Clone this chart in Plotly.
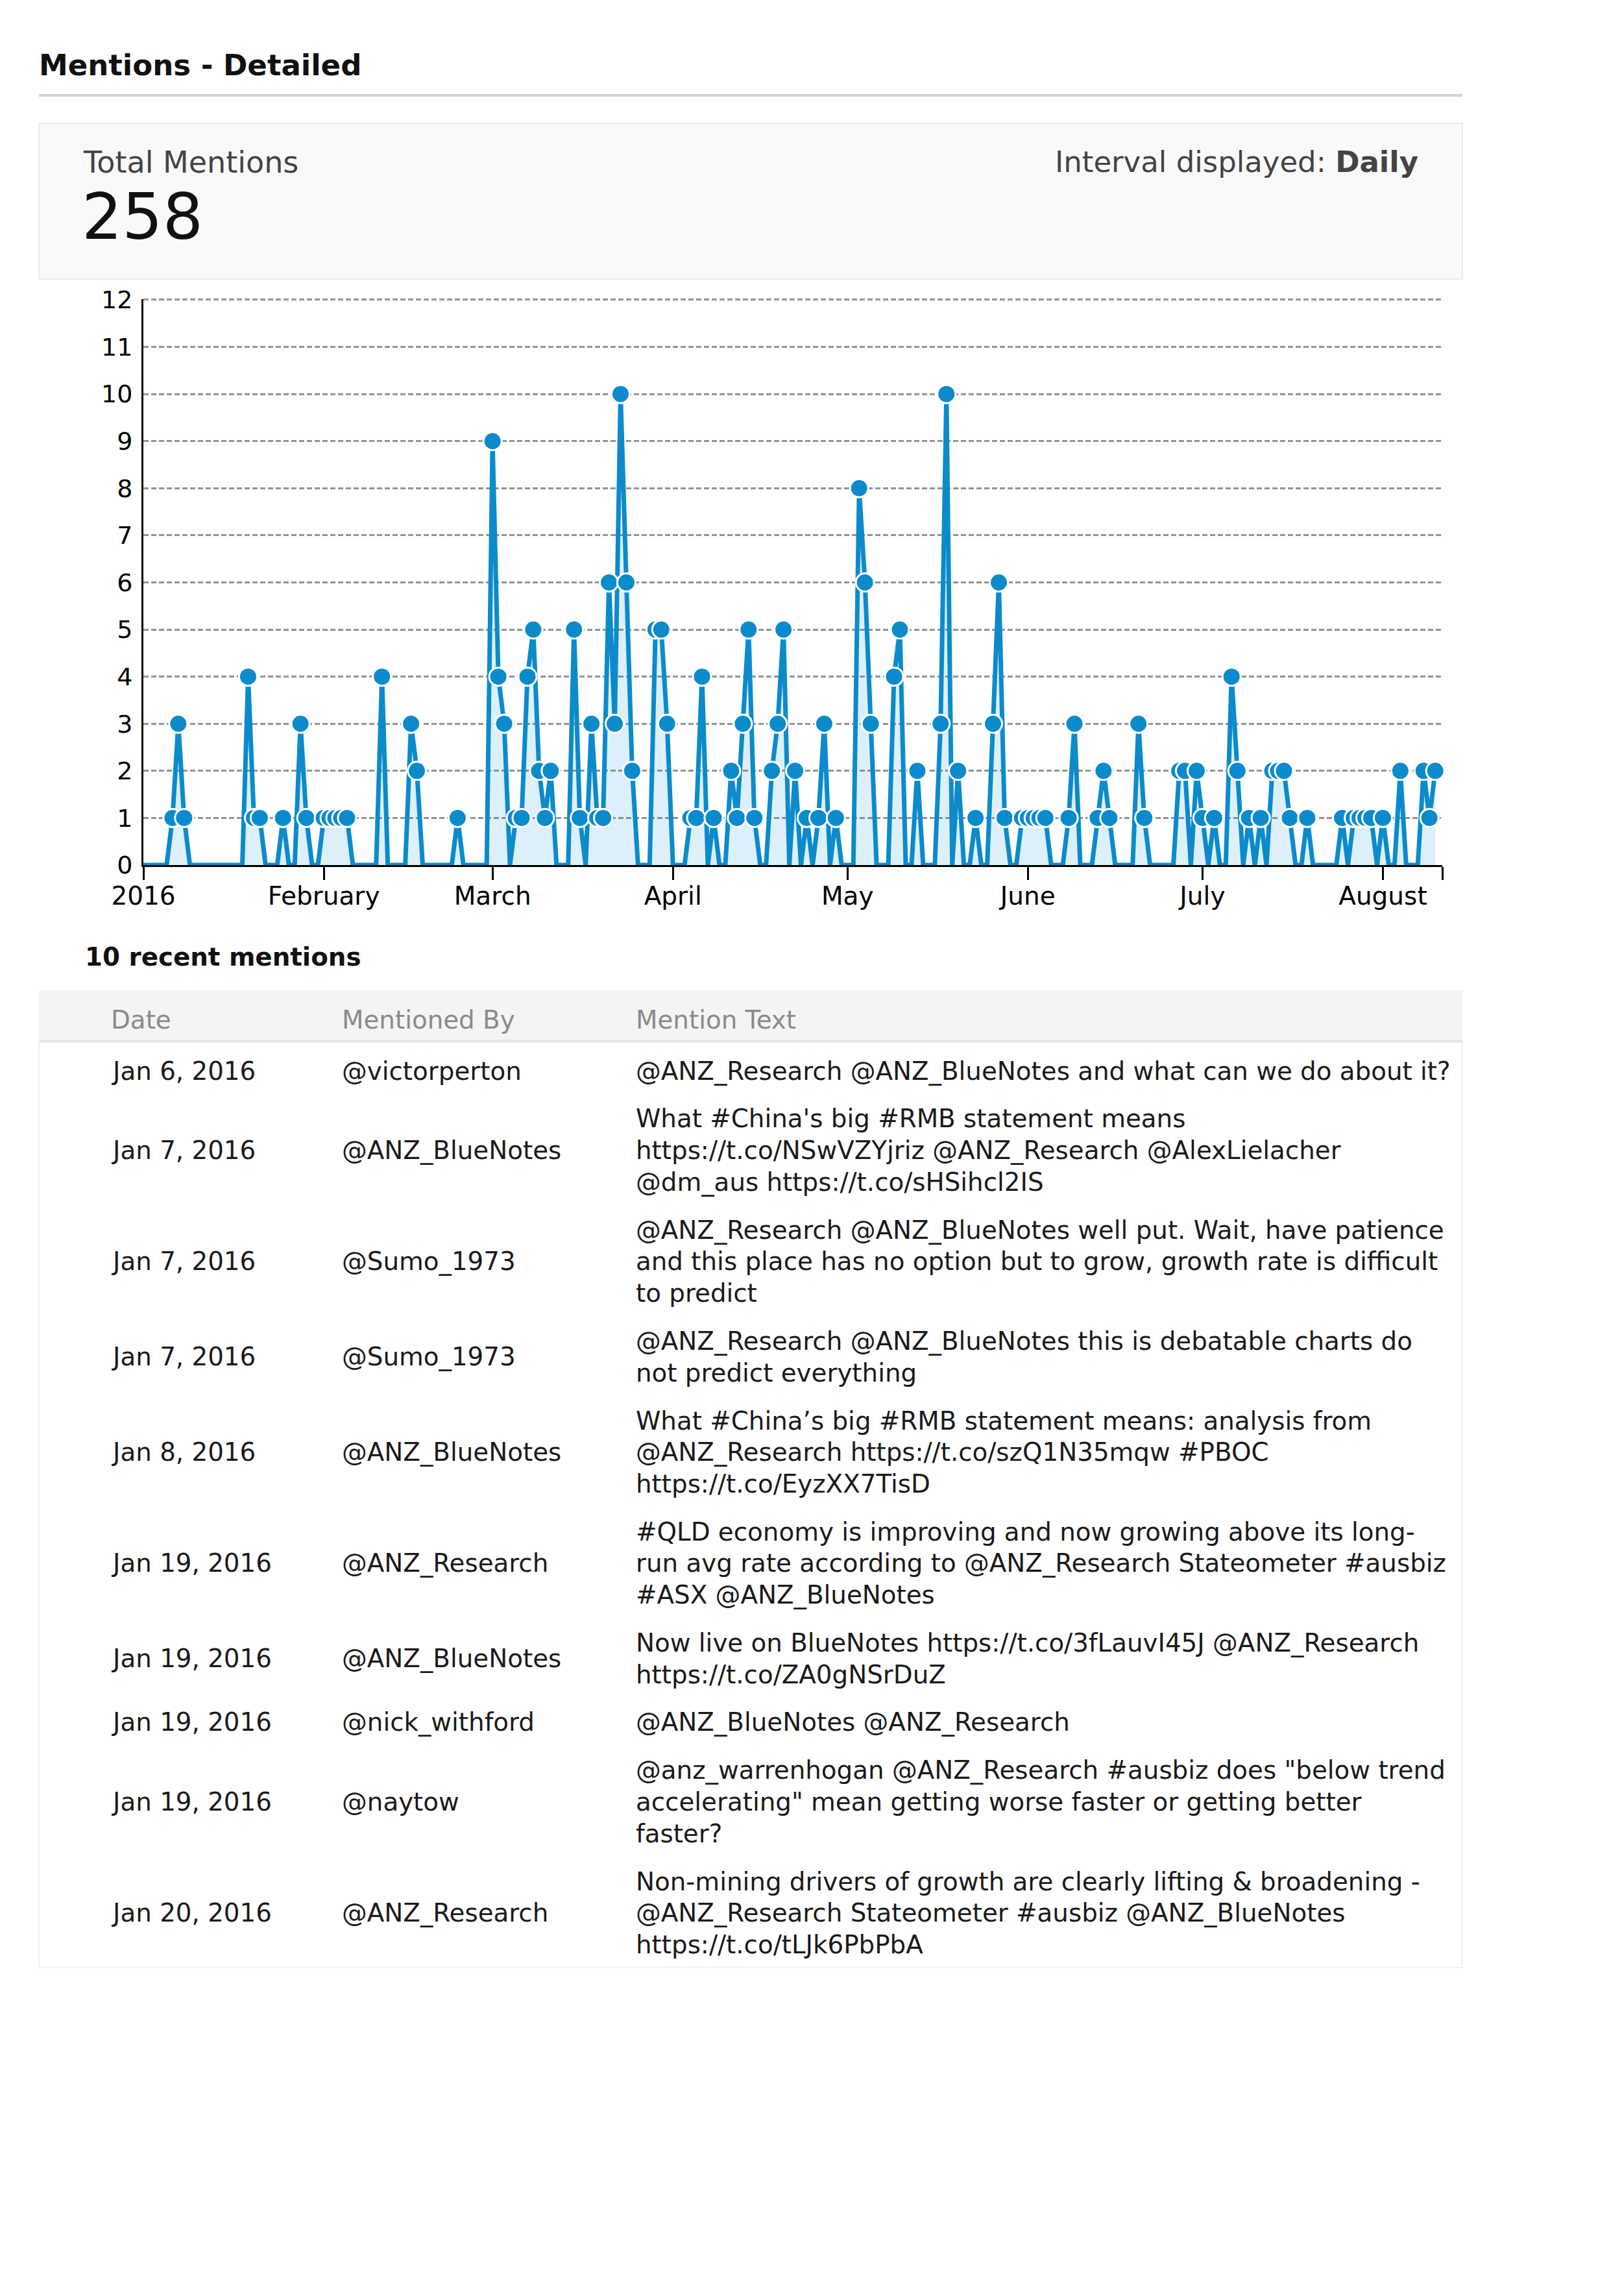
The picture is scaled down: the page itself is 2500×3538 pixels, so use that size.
import html
import pandas as pd
import plotly.graph_objects as go

# ---------------- data ----------------
START_DATE = "2016-01-01"
AXIS_END = "2016-08-11 05:00"

jan = [0, 0, 0, 0, 0, 1, 3, 1, 0, 0, 0, 0, 0, 0, 0, 0, 0, 0, 4, 1, 1, 0, 0, 0, 1, 0, 0, 3, 1, 0, 0]
feb = [1, 1, 1, 1, 1, 0, 0, 0, 0, 0, 4, 0, 0, 0, 0, 3, 2, 0, 0, 0, 0, 0, 0, 1, 0, 0, 0, 0, 0]
mar = [9, 4, 3, 0, 1, 1, 4, 5, 2, 1, 2, 0, 0, 0, 5, 1, 0, 3, 1, 1, 6, 3, 10, 6, 2, 0, 0, 0, 5, 5, 3]
apr = [0, 0, 0, 1, 1, 4, 0, 1, 0, 0, 2, 1, 3, 5, 1, 0, 0, 2, 3, 5, 0, 2, 0, 1, 0, 1, 3, 0, 1, 0]
may = [0, 0, 8, 6, 3, 0, 0, 0, 4, 5, 0, 0, 2, 0, 0, 0, 3, 10, 0, 2, 0, 0, 1, 0, 0, 3, 6, 1, 0, 0, 1]
jun = [1, 1, 1, 1, 0, 0, 0, 1, 3, 0, 0, 0, 1, 2, 1, 0, 0, 0, 0, 3, 1, 0, 0, 0, 0, 0, 2, 2, 0, 2]
jul = [1, 0, 1, 0, 0, 4, 2, 0, 1, 0, 1, 0, 2, 2, 2, 1, 0, 0, 1, 0, 0, 0, 0, 0, 1, 0, 1, 1, 1, 1, 0]
aug = [1, 0, 0, 2, 0, 0, 0, 2, 1, 2]

month_ticks = ["2016-01-01", "2016-02-01", "2016-03-01", "2016-04-01",
               "2016-05-01", "2016-06-01", "2016-07-01", "2016-08-01"]
month_labels = ["2016", "February", "March", "April", "May", "June", "July", "August"]

y_ticks = list(range(0, 13))

total_mentions = "258"
interval_label = "Daily"

recent_dates = ["Jan 6, 2016", "Jan 7, 2016", "Jan 7, 2016", "Jan 7, 2016", "Jan 8, 2016",
                "Jan 19, 2016", "Jan 19, 2016", "Jan 19, 2016", "Jan 19, 2016", "Jan 20, 2016"]
recent_users = ["@victorperton", "@ANZ_BlueNotes", "@Sumo_1973", "@Sumo_1973", "@ANZ_BlueNotes",
                "@ANZ_Research", "@ANZ_BlueNotes", "@nick_withford", "@naytow", "@ANZ_Research"]
recent_texts = [
    ["@ANZ_Research @ANZ_BlueNotes and what can we do about it?"],
    ["What #China's big #RMB statement means",
     "https://t.co/NSwVZYjriz @ANZ_Research @AlexLielacher",
     "@dm_aus https://t.co/sHSihcl2IS"],
    ["@ANZ_Research @ANZ_BlueNotes well put. Wait, have patience",
     "and this place has no option but to grow, growth rate is difficult",
     "to predict"],
    ["@ANZ_Research @ANZ_BlueNotes this is debatable charts do",
     "not predict everything"],
    ["What #China\u2019s big #RMB statement means: analysis from",
     "@ANZ_Research https://t.co/szQ1N35mqw #PBOC",
     "https://t.co/EyzXX7TisD"],
    ["#QLD economy is improving and now growing above its long-",
     "run avg rate according to @ANZ_Research Stateometer #ausbiz",
     "#ASX @ANZ_BlueNotes"],
    ["Now live on BlueNotes https://t.co/3fLauvI45J @ANZ_Research",
     "https://t.co/ZA0gNSrDuZ"],
    ["@ANZ_BlueNotes @ANZ_Research"],
    ["@anz_warrenhogan @ANZ_Research #ausbiz does \"below trend",
     "accelerating\" mean getting worse faster or getting better",
     "faster?"],
    ["Non-mining drivers of growth are clearly lifting & broadening -",
     "@ANZ_Research Stateometer #ausbiz @ANZ_BlueNotes",
     "https://t.co/tLJk6PbPbA"],
]

# ---------------- layout helpers ----------------
FONT = "DejaVu Sans"
BLUE = "#0b8bcc"
OFF = 8
W, H = 2500 - 2 * OFF, 3538 - 2 * OFF
Y_TOP = 12.02


def px(x):
    return (x - OFF) / W


def py(y):
    return 1 - (y - OFF) / H


daily_mentions = jan + feb + mar + apr + may + jun + jul + aug
dates = pd.date_range(START_DATE, periods=len(daily_mentions), freq="D")
mk_x = [d for d, v in zip(dates, daily_mentions) if v > 0]
mk_y = [v for v in daily_mentions if v > 0]

fig = go.Figure()
fig.add_trace(go.Scatter(
    x=dates, y=daily_mentions, mode="lines",
    line=dict(color=BLUE, width=7),
    fill="tozeroy", fillcolor="rgba(11,139,204,0.14)",
    hoverinfo="skip", showlegend=False,
))
fig.add_trace(go.Scatter(
    x=mk_x, y=mk_y, mode="markers",
    marker=dict(size=28, color=BLUE, line=dict(color="white", width=3)),
    cliponaxis=False, hoverinfo="skip", showlegend=False,
))

PLOT_BOTTOM, PLOT_12 = 1333, 462
plot_top = PLOT_BOTTOM - (PLOT_BOTTOM - PLOT_12) * Y_TOP / 12

fig.update_layout(
    width=W, height=H, autosize=False,
    margin=dict(l=0, r=0, t=0, b=0, pad=0, autoexpand=False),
    paper_bgcolor="white", plot_bgcolor="rgba(0,0,0,0)",
    font=dict(family=FONT, color="#111"),
    hovermode=False,
    xaxis=dict(
        domain=[px(221), px(2223)], type="date",
        range=[START_DATE, AXIS_END], automargin=False,
        tickvals=month_ticks + [AXIS_END], ticktext=month_labels + [""],
        ticks="outside", ticklen=20, tickwidth=3, tickcolor="black",
        ticklabelstandoff=-9,
        showline=True, linecolor="black", linewidth=3,
        showgrid=False, zeroline=False,
        tickfont=dict(family=FONT, size=39, color="black"),
    ),
    yaxis=dict(
        domain=[py(PLOT_BOTTOM), py(plot_top)], range=[0, Y_TOP], automargin=False,
        tickvals=y_ticks, ticktext=[str(v) for v in y_ticks],
        showgrid=True, gridcolor="#939393", gridwidth=3, griddash="8px,4px",
        showline=True, linecolor="black", linewidth=3,
        ticks="outside", ticklen=6, tickcolor="rgba(0,0,0,0)",
        zeroline=False,
        tickfont=dict(family=FONT, size=38, color="black"),
    ),
)

shapes = []
ann = []


def rect(x0, y0, x1, y1, fill, line_color=None, lw=0):
    shapes.append(dict(type="rect", xref="paper", yref="paper",
                       x0=px(x0), x1=px(x1), y0=py(y1), y1=py(y0),
                       fillcolor=fill, layer="below",
                       line=dict(color=line_color or fill, width=lw)))


def text(x, y, s, size, color="#111", xanchor="left"):
    ann.append(dict(xref="paper", yref="paper", x=px(x), y=py(y), text=s,
                    showarrow=False, xanchor=xanchor, yanchor="middle", align="left",
                    borderpad=0, font=dict(family=FONT, size=size, color=color)))


# header
text(59, 101, "<b>Mentions - Detailed</b>", 45, "#111")
rect(60, 145, 2254, 149, "#d4d4d4")
rect(60, 190, 2254, 430, "#f9f9f9", "#ebebeb", 2)
text(127, 250, "Total Mentions", 46, "#444")
text(125, 334, total_mentions, 98, "#111")
text(2187, 250, "Interval displayed: <b>%s</b>" % interval_label, 45, "#444", xanchor="right")

# table
TFS = 38.8
text(130, 1474, "<b>10 recent mentions</b>", TFS, "#111")
rect(60, 1606, 2254, 3032, "white", "#f1f1f1", 2)
rect(60, 1526, 2254, 1602, "#f4f4f4")
rect(60, 1602, 2254, 1606, "#e6e6e6")
COL_X = [170, 526, 979]
for cx, label in zip(COL_X, ["Date", "Mentioned By", "Mention Text"]):
    text(cx, 1571, label, TFS, "#8a8a8a")

LINE_H = 48.6
PAD = 25.4
top = 1613
for d, u, lines in zip(recent_dates, recent_users, recent_texts):
    n = len(lines)
    h = n * LINE_H + PAD
    cy = top + h / 2
    text(COL_X[0], cy, d, TFS, "#1a1a1a")
    text(COL_X[1], cy, u, TFS, "#1a1a1a")
    for k, line in enumerate(lines):
        text(COL_X[2], cy + (k - (n - 1) / 2) * LINE_H, html.escape(line, quote=False), TFS, "#1a1a1a")
    top += h

fig.update_layout(shapes=shapes, annotations=ann)
fig.write_html("out.html")
